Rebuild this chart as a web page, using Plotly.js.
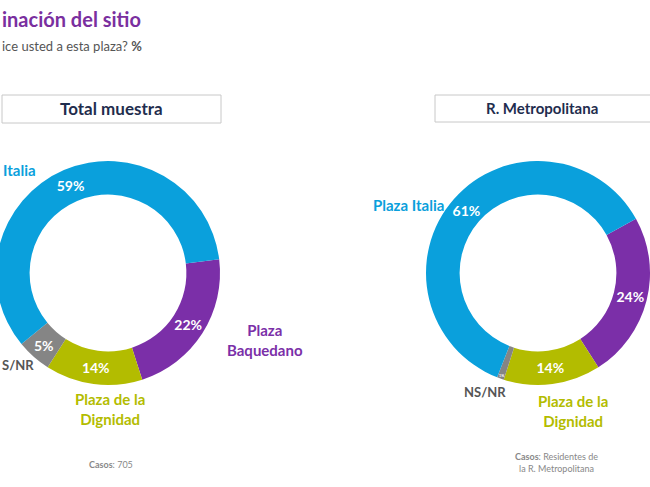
<!DOCTYPE html>
<html>
<head>
<meta charset="utf-8">
<script src="https://cdn.plot.ly/plotly-3.0.1.min.js"></script>
<style>
  html, body { margin: 0; padding: 0; overflow: hidden; background: #fff; }
  #chart { width: 760px; height: 487px; margin-left: -55px; }
</style>
</head>
<body>
<div id="chart"></div>
<script>
var categories = ['Plaza Baquedano', 'Plaza de la Dignidad', 'NS/NR', 'Plaza Italia'];
var totalValues = [22, 14, 5, 59];
var metroValues = [24, 14, 1, 61];
var colors = ['#7b2fa8', '#b3bc00', '#858585', '#0aa0dc'];

// window pixel -> paper coords (div is offset 55px to the left)
function px(wx) { return (wx + 55) / 760; }
function py(wy) { return 1 - wy / 487; }

function donut(values, cx, rot) {
  return {
    type: 'pie',
    labels: categories,
    values: values,
    sort: false,
    direction: 'clockwise',
    rotation: rot,
    hole: 0.7,
    marker: { colors: colors, line: { color: '#fff', width: 0 } },
    texttemplate: '%{value}%',
    textposition: 'inside',
    insidetextorientation: 'horizontal',
    textfont: { color: '#fff', size: 14, family: 'Lato', weight: 'bold' },
    domain: { x: [px(cx - 112), px(cx + 112)], y: [py(386), py(160)] },
    showlegend: false,
    hoverinfo: 'label+value'
  };
}

var data = [donut(totalValues, 108, 83), donut(metroValues, 538, 61)];

function lab(text, wx, wy, color, size, anchor, bold) {
  return {
    text: text, x: px(wx), y: py(wy), xref: 'paper', yref: 'paper',
    xanchor: anchor || 'center', yanchor: 'middle', showarrow: false, align: anchor || 'center',
    font: { color: color, size: size, family: 'Lato', weight: bold === false ? 'normal' : 'bold' }
  };
}

// the slide is cropped at the left edge: only the visible parts of these texts are shown
var annotations = [
  lab('inación del sitio', 0, 19, '#7a2f9f', 20, 'left'),
  lab('ice usted a esta plaza? <b>%</b>', 0, 46, '#555', 13, 'left', false),
  lab('Total muestra', 111, 109, '#1f2d4e', 17),
  lab('R. Metropolitana', 542, 108, '#1f2d4e', 15),
  lab('Italia', 1, 170, '#0aa0dc', 15, 'left'),
  lab('Plaza<br>Baquedano', 265, 340, '#7b2fa8', 15),
  lab('S/NR', 0, 365, '#555', 13, 'left'),
  lab('Plaza de la<br>Dignidad', 110, 409, '#b3bc00', 15),
  lab('Plaza Italia', 446, 205, '#0aa0dc', 15, 'right'),
  lab('NS/NR', 485, 392, '#555', 13),
  lab('Plaza de la<br>Dignidad', 573, 411, '#b3bc00', 15),
  lab('<b>Casos</b>: 705', 111, 464, '#888', 9, 'center', false),
  lab('<b>Casos</b>: Residentes de<br>la R. Metropolitana', 556, 462, '#888', 9, 'center', false)
];

var shapes = [
  { type: 'rect', xref: 'paper', yref: 'paper', x0: px(2), x1: px(221), y0: py(123), y1: py(95),
    line: { color: '#c8c8c8', width: 1 } },
  { type: 'rect', xref: 'paper', yref: 'paper', x0: px(435), x1: px(652), y0: py(122), y1: py(95),
    line: { color: '#c8c8c8', width: 1 } }
];

var layout = {
  width: 760, height: 487,
  margin: { l: 0, r: 0, t: 0, b: 0 },
  paper_bgcolor: '#fff',
  annotations: annotations,
  shapes: shapes
};

Plotly.newPlot('chart', data, layout, { displayModeBar: false, staticPlot: true });
</script>
</body>
</html>
